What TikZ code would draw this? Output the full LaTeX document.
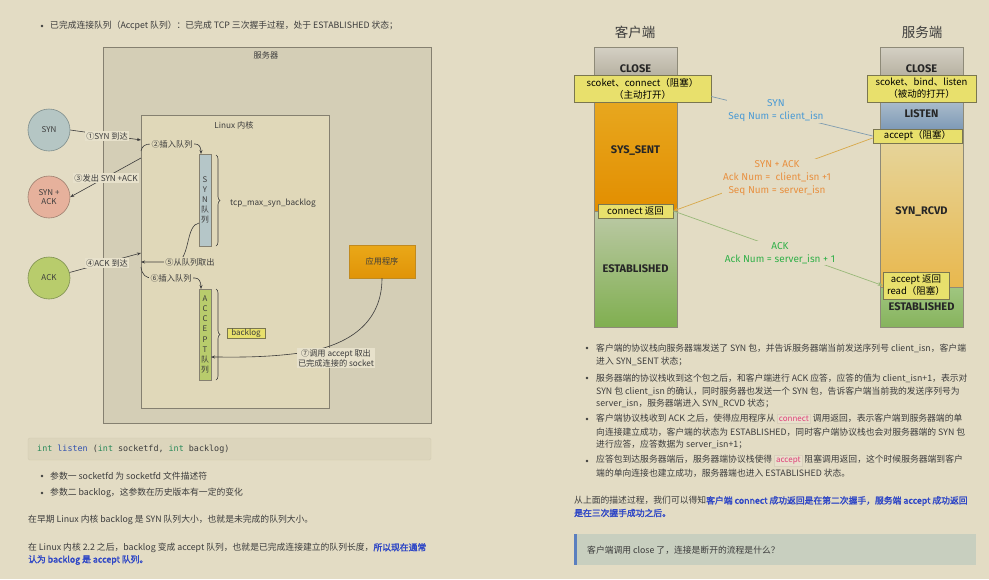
\documentclass[tikz,border=0pt]{standalone}
\usepackage{fontspec}
\setmainfont{Noto Sans CJK SC}[AutoFakeBold=2]
\newfontfamily\statefont{Fira Sans}
\newfontfamily\codefont{DejaVu Sans Mono}
\usetikzlibrary{arrows.meta,decorations.pathreplacing}
\definecolor{txt}{HTML}{3C3C3C}
\definecolor{bg}{HTML}{E3DCC4}
\definecolor{srvfill}{HTML}{D4CEB6}
\definecolor{kerfill}{HTML}{E0D8B9}
\definecolor{boxb}{HTML}{858070}
\definecolor{lblbg}{HTML}{E7E1CB}
\definecolor{synfill}{HTML}{B5C6C4}
\definecolor{synb}{HTML}{7F8E8C}
\definecolor{safill}{HTML}{E6B19C}
\definecolor{sab}{HTML}{9E8070}
\definecolor{ackfill}{HTML}{B8CC6C}
\definecolor{ackb}{HTML}{7E9050}
\definecolor{qsyn}{HTML}{B5C6C8}
\definecolor{yel}{HTML}{E8E06C}
\definecolor{ybd}{HTML}{7A7650}
\definecolor{appt}{HTML}{EAA818}
\definecolor{appbo}{HTML}{E09408}
\definecolor{appb}{HTML}{C08A20}
\definecolor{linkblue}{HTML}{2F47C6}
\definecolor{kwgreen}{HTML}{2A8A5A}
\definecolor{fnblue}{HTML}{3050B0}
\definecolor{codefill}{HTML}{DCD5BC}
\definecolor{codeb}{HTML}{D3CCB2}
\definecolor{quotefill}{HTML}{C8CFBF}
\definecolor{qbar}{HTML}{5B7FBF}
\definecolor{icr}{HTML}{E0407A}
\definecolor{icf}{HTML}{E8E0CC}
\definecolor{icb}{HTML}{D8D0BC}
\definecolor{synline}{HTML}{7F9CB0}
\definecolor{synt}{HTML}{4A9AD4}
\definecolor{saline}{HTML}{D8A848}
\definecolor{sat}{HTML}{E89040}
\definecolor{ackline}{HTML}{98B878}
\definecolor{ackt}{HTML}{30B048}
\definecolor{segb}{HTML}{8E8A78}
\definecolor{closet}{HTML}{D4D0C4}
\definecolor{closeb}{HTML}{A8A290}
\definecolor{sentt}{HTML}{E8AA22}
\definecolor{sentb}{HTML}{E28E00}
\definecolor{estt}{HTML}{BCC9A6}
\definecolor{estb}{HTML}{80AF50}
\definecolor{listt}{HTML}{BCCAD4}
\definecolor{listb}{HTML}{7290B0}
\definecolor{rcvdt}{HTML}{E6D59C}
\definecolor{rcvdb}{HTML}{E8B84E}
\definecolor{sestt}{HTML}{A0C680}
\definecolor{sestb}{HTML}{86B35C}
\newcommand\bdfont{\fontsize{8.8}{11}\selectfont}
\newcommand\smfont{\fontsize{8.2}{10}\selectfont}
\newcommand\bluebf[1]{{\color{linkblue}\bfseries #1}}
\newcommand\icode[1]{{\setlength{\fboxsep}{1.5pt}\fcolorbox{icb}{icf}{\textcolor{icr}{\fontsize{8}{9}\selectfont #1}}}}
\begin{document}
\begin{tikzpicture}[x=1pt,y=-1pt,
  tl/.style={anchor=west, font=\bdfont, text=txt, inner sep=0},
  small/.style={font=\smfont, text=txt, inner sep=0},
  lbl/.style={font=\smfont, text=txt, fill=lblbg, inner sep=1.2pt, align=center},
  arr/.style={draw=txt, line width=0.6pt, -{Stealth[length=4pt,width=3pt]}},
  circ/.style={circle, line width=0.6pt, minimum size=42pt, inner sep=0, font=\fontsize{8}{9.5}\selectfont, text=txt, align=center},
  qbox/.style={rectangle, draw=boxb, line width=0.6pt, minimum width=12pt, inner sep=0, align=center, font=\fontsize{7.8}{10.2}\selectfont, text=txt},
  ybox/.style={rectangle, draw=ybd, fill=yel, line width=0.7pt, inner sep=0, align=center, font=\fontsize{9.5}{12}\selectfont, text=black},
  seg/.style={rectangle, draw=segb, line width=0.8pt, minimum width=83pt, inner sep=0, font=\statefont\bfseries\fontsize{11}{12}\selectfont, text=black!85},
  sketch/.style={font=\statefont\fontsize{10}{13}\selectfont, fill=bg, inner sep=1pt, align=center},
  brc/.style={draw=txt, line width=0.6pt, decorate, decoration={brace, amplitude=4pt}}
]
\fill[bg] (0,0) rectangle (989,579);
\useasboundingbox (0,0) rectangle (989,579);

% ---------- left: top line ----------
\fill[txt] (42,26) circle (1.3);
\node[tl] (topline) at (50,26) {已完成连接队列（Accpet 队列）：已完成 TCP 三次握手过程，处于 ESTABLISHED 状态；};

% ---------- server / kernel ----------
\node[rectangle, draw=boxb, fill=srvfill, line width=0.8pt, minimum width=328pt, minimum height=376pt, inner sep=0] (server) at (267,235) {};
\node[small] (srvlbl) at (266,55) {服务器};
\node[rectangle, draw=boxb, fill=kerfill, line width=0.8pt, minimum width=188pt, minimum height=293pt, inner sep=0] (kernel) at (235,261.5) {};
\node[small] (kerlbl) at (234,125) {Linux 内核};

% circles
\node[circ, draw=synb, fill=synfill] (syn) at (49,130) {SYN};
\node[circ, draw=sab, fill=safill] (synack) at (49,197) {SYN +\\ACK};
\node[circ, draw=ackb, fill=ackfill] (ack) at (49,278) {ACK};

% queues
\node[qbox, fill=qsyn, minimum height=92pt] (synq) at (205,200) {S\\Y\\N\\队\\列};
\node[qbox, fill=ackfill, minimum height=91pt] (accq) at (205,334.5) {A\\C\\C\\E\\P\\T\\队\\列};

% braces
\draw[brc] (216,155) -- (216,246);
\node[small, anchor=west] (tcplbl) at (230,203) {tcp\_max\_syn\_backlog};
\draw[brc] (216,289) -- (216,380);
\node[rectangle, draw=ybd, fill=yel, line width=0.6pt, minimum width=38pt, minimum height=10pt, inner sep=0, font=\fontsize{8}{9}\selectfont, text=txt] (blbox) at (246,333) {backlog};

% app
\node[rectangle, draw=appb, top color=appt, bottom color=appbo, minimum width=66pt, minimum height=33pt, inner sep=0, font=\smfont, text=txt] (app) at (382,261.5) {应用程序};

% connector end points on kernel edge
\coordinate (k1) at (141,140);
\coordinate (k2) at (141,151);
\coordinate (k3) at (141,158);
\coordinate (k4) at (141,253);
\coordinate (k5) at (141,262);
\coordinate (k6) at (141,267);
\coordinate (q2) at (201,154);
\coordinate (q5) at (199,223);
\coordinate (q6) at (201,289);
\coordinate (q7) at (211,357);

\draw[arr] (syn.east) -- (k1);
\draw[arr] (k2) .. controls (142,146) and (145,144) .. (151,144) -- (195,144) .. controls (199,144) and (201,147) .. (q2);
\draw[arr] (k3) -- (synack.east);
\draw[arr] (ack.15) -- (k4);
\draw[arr] (q5) .. controls (186,225) and (190,256) .. (178,262) -- (k5);
\draw[arr] (k6) .. controls (142,275) and (146,278) .. (152,278) -- (195,278) .. controls (199,278) and (201,282) .. (q6);
\draw[arr] (app.south) .. controls (382,322) and (350,346) .. (300,353) .. controls (262,358) and (232,357) .. (q7);

\node[lbl] (l1) at (107,136) {①SYN 到达};
\node[lbl, fill=kerfill] (l2) at (172,144) {②插入队列};
\node[lbl] (l3) at (106,178) {③发出 SYN +ACK};
\node[lbl] (l4) at (107,263) {④ACK 到达};
\node[lbl, fill=kerfill] (l5) at (190,262) {⑤从队列取出};
\node[lbl, fill=kerfill] (l6) at (171,278) {⑥插入队列};
\node[lbl, inner sep=0.8pt] (l7) at (336,358) {⑦调用 accept 取出\\已完成连接的 socket};

% ---------- code box & text ----------
\node[rectangle, draw=codeb, fill=codefill, rounded corners=2pt, minimum width=403pt, minimum height=22pt, inner sep=0] (codebox) at (229.5,449) {};
\node[anchor=west, inner sep=0, text=txt, font=\codefont\fontsize{8.4}{10}\selectfont] (code) at (37,449) {\textcolor{kwgreen}{int} \textcolor{fnblue}{listen} (\textcolor{kwgreen}{int} socketfd, \textcolor{kwgreen}{int} backlog)};

\fill[txt] (42,476) circle (1.3);
\node[tl] (b1) at (50,476) {参数一 socketfd 为 socketfd 文件描述符};
\fill[txt] (42,493) circle (1.3);
\node[tl] (b2) at (50,493) {参数二 backlog，这参数在历史版本有一定的变化};
\node[tl] (p2) at (28,520) {在早期 Linux 内核 backlog 是 SYN 队列大小，也就是未完成的队列大小。};
\node[tl] (p3a) at (28,548) {在 Linux 内核 2.2 之后，backlog 变成 accept 队列，也就是已完成连接建立的队列长度，\bluebf{所以现在通常}};
\node[tl] (p3b) at (28,560) {\bluebf{认为 backlog 是 accept 队列。}};

% ---------- right diagram ----------
\node[font=\fontsize{13.5}{15}\selectfont, text=txt, inner sep=0] (client) at (635,32) {客户端};
\node[font=\fontsize{13.5}{15}\selectfont, text=txt, inner sep=0] (serverT) at (922,32) {服务端};

\node[seg, top color=closet, bottom color=closeb, minimum height=43pt] (cclose) at (635.5,68.5) {CLOSE};
\node[seg, top color=sentt, bottom color=sentb, minimum height=121pt] (csent) at (635.5,150.5) {SYS\_SENT};
\node[seg, top color=estt, bottom color=estb, minimum height=116pt] (cest) at (635.5,269) {ESTABLISHED};

\node[seg, top color=closet, bottom color=closeb, minimum height=43pt] (sclose) at (921.5,68.5) {CLOSE};
\node[seg, top color=listt, bottom color=listb, minimum height=47pt] (slisten) at (921.5,113.5) {LISTEN};
\node[seg, top color=rcvdt, bottom color=rcvdb, minimum height=150pt] (srcvd) at (921.5,212) {SYN\_RCVD};
\node[seg, top color=sestt, bottom color=sestb, minimum height=40pt] (sest) at (921.5,307) {ESTABLISHED};

\node[ybox, minimum width=137pt, minimum height=27pt] (cbox1) at (642.5,88.5) {scoket、connect（阻塞）\\（主动打开）};
\node[ybox, minimum width=109pt, minimum height=27pt] (sbox1) at (921.5,88.5) {scoket、bind、listen\\（被动的打开）};
\node[ybox, minimum width=89pt, minimum height=14pt] (saccept) at (917.5,136) {accept（阻塞）};
\node[ybox, minimum width=75pt, minimum height=14pt] (cret) at (635.5,211) {connect 返回};
\node[ybox, minimum width=66pt, minimum height=27pt] (sret) at (916,285.5) {accept 返回\\read（阻塞）};

\draw[draw=synline, line width=0.7pt] ([yshift=-8pt]cbox1.east) -- (saccept.west);
\draw[draw=saline, line width=0.7pt, -{Stealth[length=5pt,width=4pt]}] ([yshift=-2pt]saccept.west) -- (cret.east);
\draw[draw=ackline, line width=0.7pt, -{Stealth[length=5pt,width=4pt]}] (cret.east) -- (sret.west);

\node[sketch, text=synt] (synlbl) at (776,110.5) {SYN\\Seq Num = client\_isn};
\node[sketch, text=sat] (salbl) at (777,178) {SYN + ACK\\Ack Num =~ client\_isn +1\\Seq Num = server\_isn};
\node[sketch, text=ackt] (acklbl) at (780,253) {ACK\\Ack Num = server\_isn + 1};

% ---------- right text ----------
\fill[txt] (587,348) circle (1.3);
\node[tl] (r1a) at (596,348) {客户端的协议栈向服务器端发送了 SYN 包，并告诉服务器端当前发送序列号 client\_isn，客户端};
\node[tl] (r1b) at (596,361) {进入 SYN\_SENT 状态；};
\fill[txt] (587,378) circle (1.3);
\node[tl] (r2a) at (596,378) {服务器端的协议栈收到这个包之后，和客户端进行 ACK 应答，应答的值为 client\_isn+1，表示对};
\node[tl] (r2b) at (596,391) {SYN 包 client\_isn 的确认，同时服务器也发送一个 SYN 包，告诉客户端当前我的发送序列号为};
\node[tl] (r2c) at (596,403) {server\_isn，服务器端进入 SYN\_RCVD 状态；};
\fill[txt] (587,419) circle (1.3);
\node[tl] (r3a) at (596,419) {客户端协议栈收到 ACK 之后，使得应用程序从 \icode{connect} 调用返回，表示客户端到服务器端的单};
\node[tl] (r3b) at (596,432) {向连接建立成功，客户端的状态为 ESTABLISHED，同时客户端协议栈也会对服务器端的 SYN 包};
\node[tl] (r3c) at (596,444) {进行应答，应答数据为 server\_isn+1；};
\fill[txt] (587,461) circle (1.3);
\node[tl] (r4a) at (596,461) {应答包到达服务器端后，服务器端协议栈使得 \icode{accept} 阻塞调用返回，这个时候服务器端到客户};
\node[tl] (r4b) at (596,473) {端的单向连接也建立成功，服务器端也进入 ESTABLISHED 状态。};

\node[tl] (q1a) at (574,501) {从上面的描述过程，我们可以得知\bluebf{客户端 connect 成功返回是在第二次握手，服务端 accept 成功返回}};
\node[tl] (q1b) at (574,513) {\bluebf{是在三次握手成功之后。}};

\node[rectangle, fill=quotefill, minimum width=402pt, minimum height=31pt, inner sep=0] (quote) at (775,549.5) {};
\fill[qbar] (574,534) rectangle (577,565);
\node[tl] (qtext) at (587,550) {客户端调用 close 了，连接是断开的流程是什么？};
\end{tikzpicture}
\end{document}
